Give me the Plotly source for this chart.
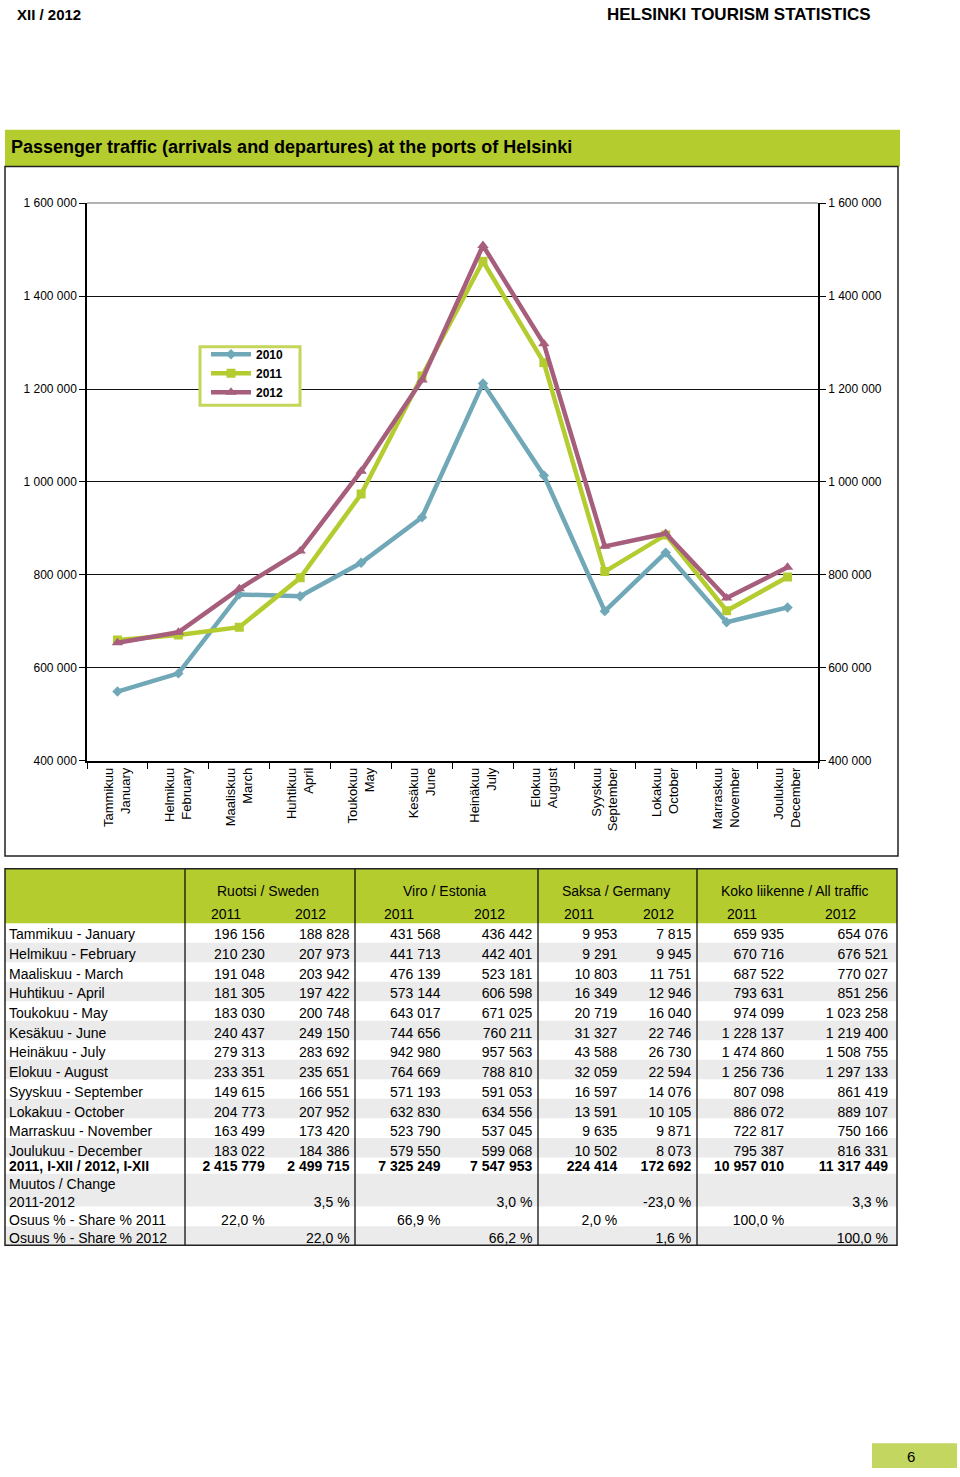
import plotly.graph_objects as go

W, H = 960, 1477

# ---------------- data ----------------
months_fi = ["Tammikuu", "Helmikuu", "Maaliskuu", "Huhtikuu", "Toukokuu", "Kesäkuu",
             "Heinäkuu", "Elokuu", "Syyskuu", "Lokakuu", "Marraskuu", "Joulukuu"]
months_en = ["January", "February", "March", "April", "May", "June",
             "July", "August", "September", "October", "November", "December"]

traffic_2010 = [549000, 588000, 758000, 754000, 826000, 924000,
                1212000, 1014000, 722000, 848000, 698000, 730000]

sweden_2011 = [196156, 210230, 191048, 181305, 183030, 240437, 279313, 233351, 149615, 204773, 163499, 183022]
sweden_2012 = [188828, 207973, 203942, 197422, 200748, 249150, 283692, 235651, 166551, 207952, 173420, 184386]
estonia_2011 = [431568, 441713, 476139, 573144, 643017, 744656, 942980, 764669, 571193, 632830, 523790, 579550]
estonia_2012 = [436442, 442401, 523181, 606598, 671025, 760211, 957563, 788810, 591053, 634556, 537045, 599068]
germany_2011 = [9953, 9291, 10803, 16349, 20719, 31327, 43588, 32059, 16597, 13591, 9635, 10502]
germany_2012 = [7815, 9945, 11751, 12946, 16040, 22746, 26730, 22594, 14076, 10105, 9871, 8073]
total_2011 = [659935, 670716, 687522, 793631, 974099, 1228137, 1474860, 1256736, 807098, 886072, 722817, 795387]
total_2012 = [654076, 676521, 770027, 851256, 1023258, 1219400, 1508755, 1297133, 861419, 889107, 750166, 816331]

year_total_2011 = [2415779, 7325249, 224414, 10957010]   # Sweden, Estonia, Germany, All
year_total_2012 = [2499715, 7547953, 172692, 11317449]
change_pct = [3.5, 3.0, -23.0, 3.3]
share_2011 = [22.0, 66.9, 2.0, 100.0]
share_2012 = [22.0, 66.2, 1.6, 100.0]

groups = ["Ruotsi / Sweden", "Viro / Estonia", "Saksa / Germany", "Koko liikenne / All traffic"]
years = ["2011", "2012"]
series_names = ["2010", "2011", "2012"]

# ---------------- helpers ----------------
NB = "\u00a0"


def px(x):
    return x / W


def py(y):
    return 1 - y / H


def fmt_int(v):
    return f"{v:,}".replace(",", NB)


def fmt_pct(v):
    return f"{v:.1f}".replace(".", ",") + NB + "%"


def nb(s):
    return s.replace(" ", NB)


def note(x, y, text, size, family=None, xanchor="center"):
    return dict(xref="paper", yref="paper", x=px(x), y=py(y), xanchor=xanchor,
                yanchor="middle", showarrow=False, text=text,
                font=dict(family=family or FONT, size=size, color="black"))


def prect(x0, y0, x1, y1, **kw):
    return dict(type="rect", xref="paper", yref="paper", x0=px(x0), x1=px(x1),
                y0=py(y1), y1=py(y0), **kw)


FONT = "Liberation Sans, Arial, sans-serif"
NARROW = "Liberation Sans Narrow, Arial Narrow, Liberation Sans, Arial, sans-serif"
GREEN = "#b5cc2f"
GRAY = "#ebebeb"
CLEAR = "rgba(0,0,0,0)"
C2010, C2011, C2012 = "#70a8b8", "#b5cc30", "#a65e7c"

fig = go.Figure()

# ---------------- line chart ----------------
cats = [f"{fi}<br>{en}" for fi, en in zip(months_fi, months_en)]
for name, vals, col, sym, size in [
    (series_names[0], traffic_2010, C2010, "diamond", 8),
    (series_names[1], total_2011, C2011, "square", 9),
    (series_names[2], total_2012, C2012, "triangle-up", 10),
]:
    fig.add_trace(go.Scatter(x=cats, y=vals, name=name, mode="lines+markers",
                             line=dict(color=col, width=4.5),
                             marker=dict(symbol=sym, size=size, color=col)))

# invisible trace on right axis so it renders
fig.add_trace(go.Scatter(x=cats, y=total_2011, yaxis="y2", showlegend=False,
                         mode="lines", line=dict(width=0), hoverinfo="skip", opacity=0))

ydom = [py(761), py(198)]
fig.update_layout(
    xaxis=dict(domain=[px(87), px(818)], type="category", range=[-0.5, 11.5],
               showline=True, linecolor="black", linewidth=1.5,
               ticks="outside", tickson="boundaries", ticklen=6, tickcolor="black",
               tickangle=-90, tickfont=dict(family=FONT, size=13, color="black"),
               showgrid=False, fixedrange=True),
    yaxis=dict(domain=ydom, range=[400000, 1600000], dtick=200000, tickformat=",d",
               showline=True, linecolor="black", linewidth=1.5,
               ticks="outside", ticklen=6, tickcolor="black",
               showgrid=True, gridcolor="#111", gridwidth=1.2, zeroline=False,
               tickfont=dict(family=FONT, size=12, color="black")),
    yaxis2=dict(domain=ydom, overlaying="y", side="right", range=[400000, 1600000],
                dtick=200000, tickformat=",d", showline=True, linecolor="black",
                linewidth=1.5, ticks="outside", ticklen=6, tickcolor="black",
                showgrid=False, zeroline=False, anchor="x",
                tickfont=dict(family=FONT, size=12, color="black")),
    legend=dict(x=px(206), y=py(336), xanchor="left", yanchor="top",
                bgcolor=CLEAR, borderwidth=0,
                font=dict(family=FONT, size=12, color="black", weight="bold"),
                tracegroupgap=0, itemwidth=40),
)

# ---------------- table ----------------
col_widths = [187, 85, 85, 91, 92, 85, 74, 93, 104]
T_LEFT = 1
month_labels = [nb(f"{fi} - {en}") for fi, en in zip(months_fi, months_en)]
month_cols = [sweden_2011, sweden_2012, estonia_2011, estonia_2012,
              germany_2011, germany_2012, total_2011, total_2012]

# upper table: (empty) header + monthly rows
cols_a = [month_labels] + [[fmt_int(v) for v in vals] for vals in month_cols]

# lower table: totals row (as bold header) + change and share rows
head_b = [nb("2011, I-XII / 2012, I-XII")]
cols_b = [[nb("Muutos / Change"), "2011-2012", nb("Osuus % - Share % 2011"), nb("Osuus % - Share % 2012")]]
for i in range(8):
    g, yr = divmod(i, 2)
    if yr == 0:
        head_b.append(fmt_int(year_total_2011[g]))
        cols_b.append(["", "", fmt_pct(share_2011[g]), ""])
    else:
        head_b.append(fmt_int(year_total_2012[g]))
        cols_b.append(["", fmt_pct(change_pct[g]), "", fmt_pct(share_2012[g])])

ROW_A = 19.7
ROW_B = 17.9
HEAD_H = 55
T_TOP = 870
T_RIGHT = 897
A_BOT = T_TOP + HEAD_H + 12 * ROW_A
T_BOT = 1250
SHIFT_A = 3
SHIFT_B = 5
CELL_FONT = 14
aligns = ["left"] + ["right"] * 8

fig.add_trace(go.Table(
    domain=dict(x=[px(T_LEFT), px(T_RIGHT)],
                y=[py(A_BOT - SHIFT_A + 6), py(T_TOP - SHIFT_A)]),
    columnwidth=col_widths,
    header=dict(values=[""] * 9, height=HEAD_H, fill_color=CLEAR,
                line=dict(width=0, color=CLEAR)),
    cells=dict(values=cols_a, height=ROW_A, fill_color=CLEAR,
               line=dict(width=0, color=CLEAR), align=aligns,
               font=dict(family=FONT, size=CELL_FONT, color="black")),
))
fig.add_trace(go.Table(
    domain=dict(x=[px(T_LEFT), px(T_RIGHT)],
                y=[py(A_BOT - SHIFT_B + 5 * ROW_B + 10), py(A_BOT - SHIFT_B)]),
    columnwidth=col_widths,
    header=dict(values=head_b, height=ROW_B, fill_color=CLEAR,
                line=dict(width=0, color=CLEAR), align=aligns,
                font=dict(family=FONT, size=CELL_FONT, color="black", weight="bold")),
    cells=dict(values=cols_b, height=ROW_B, fill_color=CLEAR,
               line=dict(width=0, color=CLEAR), align=aligns,
               font=dict(family=FONT, size=CELL_FONT, color="black")),
))

shapes = []
annotations = []

# table background: header band and row stripes
shapes.append(prect(5, T_TOP, T_RIGHT, T_TOP + HEAD_H, fillcolor=GREEN, line=dict(width=0), layer="below"))
for r in range(12):
    if r % 2 == 1:
        top = T_TOP + HEAD_H + r * ROW_A
        shapes.append(prect(5, top, T_RIGHT, top + ROW_A, fillcolor=GRAY, line=dict(width=0), layer="below"))
stripe_b = [(A_BOT, 1178, "white"), (1178, 1211, GRAY), (1211, 1231, "white"), (1231, T_BOT, GRAY)]
for y0, y1, c in stripe_b:
    if c != "white":
        shapes.append(prect(5, y0, T_RIGHT, y1, fillcolor=c, line=dict(width=0), layer="below"))

# chart frame & title bar
shapes.append(prect(5, 124, 900, 161, fillcolor=GREEN, line=dict(width=0), layer="below"))
shapes.append(prect(5, 161, 898, 857, line=dict(color="#222", width=1.5), layer="below"))
annotations.append(note(9, 141, "<b>Passenger traffic (arrivals and departures) at the ports of Helsinki</b>",
                        18, NARROW, "left"))

# lighter top gridline (1 600 000)
shapes.append(dict(type="line", xref="x domain", yref="y domain", x0=0, x1=1, y0=1, y1=1,
                   line=dict(color="#9a9a9a", width=1.5), layer="above"))

# legend frame
shapes.append(prect(200, 343, 300, 402, fillcolor="white", line=dict(color="#c5d65a", width=3), layer="above"))

# page header
annotations.append(note(15, 8, "<b>XII / 2012</b>", 15, FONT, "left"))
annotations.append(note(873, 8, "<b>HELSINKI TOURISM STATISTICS</b>", 17, FONT, "right"))

# table header labels and lines
edges = [T_LEFT]
for w in col_widths:
    edges.append(edges[-1] + w)
group_edges = [5, 185, 355, 538, 697, T_RIGHT]
for g, name in enumerate(groups):
    cx = (group_edges[g + 1] + group_edges[g + 2]) / 2 - 2
    annotations.append(note(cx, 892, name, 14))
    for k in range(2):
        ci = 1 + 2 * g + k
        cxx = (edges[ci] + edges[ci + 1]) / 2 - 5
        annotations.append(note(cxx, 916, years[k], 14))
for xe in group_edges[1:-1]:
    shapes.append(dict(type="line", xref="paper", yref="paper", x0=px(xe), x1=px(xe),
                       y0=py(T_BOT), y1=py(T_TOP), line=dict(color="#111", width=1.3), layer="above"))
shapes.append(prect(5, T_TOP, T_RIGHT, T_BOT, line=dict(color="#222", width=1.5), layer="above"))

# page number
shapes.append(prect(872, 1450, 957, 1475, fillcolor="#c3d760", line=dict(width=0), layer="below"))
annotations.append(note(911, 1463, "6", 15))

fig.update_layout(width=W, height=H, autosize=False, margin=dict(l=0, r=0, t=0, b=0),
                  paper_bgcolor="white", plot_bgcolor="white", separators=", ",
                  shapes=shapes, annotations=annotations, font=dict(family=FONT),
                  showlegend=True)

fig.write_html("out.html")
